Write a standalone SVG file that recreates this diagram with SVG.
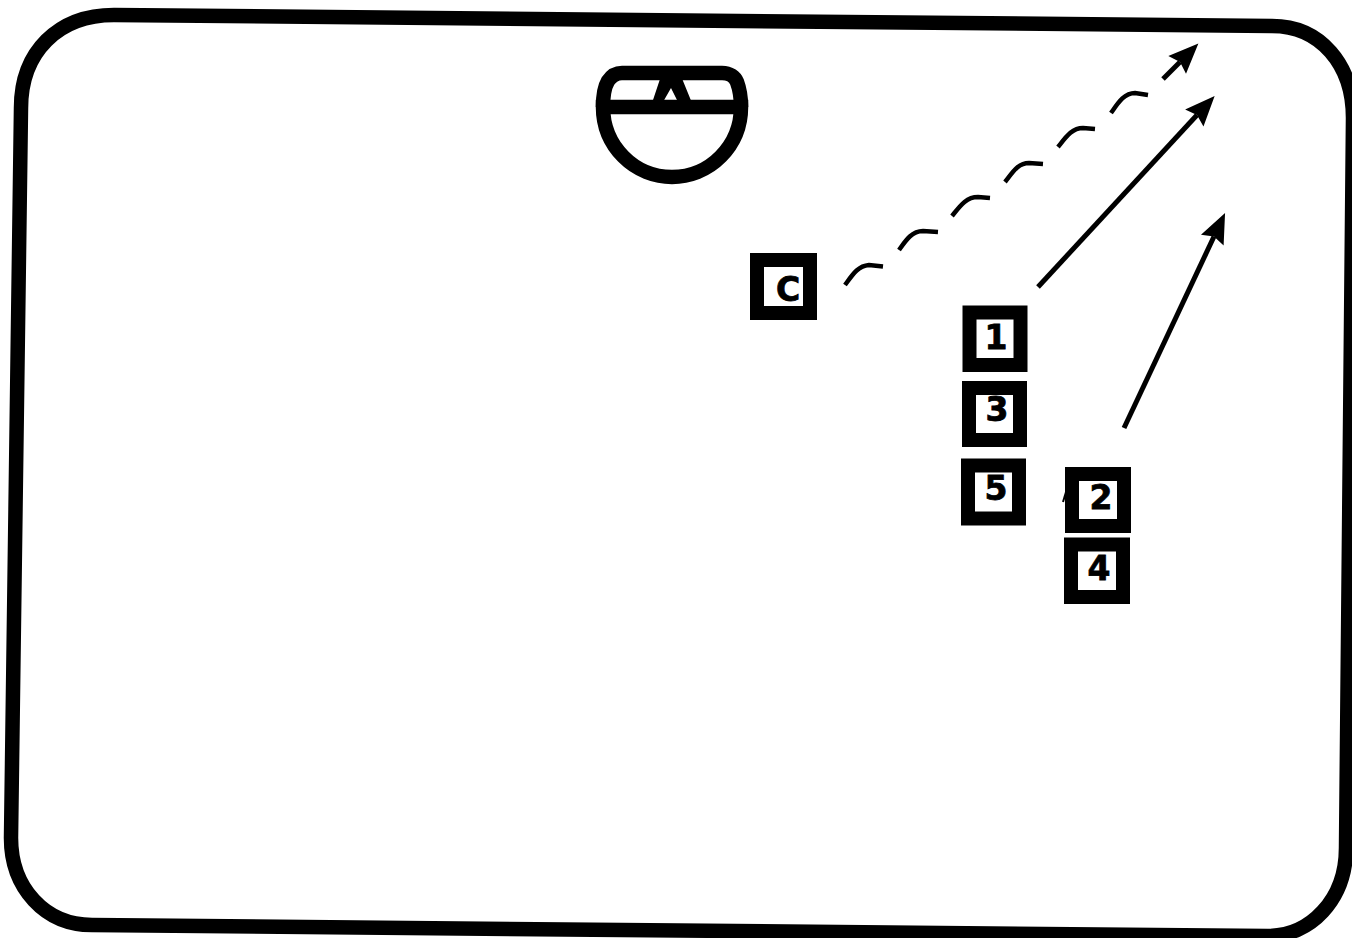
<svg xmlns="http://www.w3.org/2000/svg" width="1352" height="938" viewBox="0 0 1352 938">
  <style>
    .box { fill: #fff; stroke: #000; stroke-width: 14; }
    .lbl { font-family: "DejaVu Sans", "Liberation Sans", sans-serif; font-weight: 700; font-size: 33px; text-anchor: middle; fill: #000; stroke: #000; stroke-width: 0.8; }
    .solid { fill: none; stroke: #000; stroke-width: 5; marker-end: url(#head); }
    .dash { fill: none; stroke: #000; stroke-width: 4.500; }
    .sym { fill: none; stroke: #000; stroke-width: 14.500; }
  </style>
  <defs>
    <marker id="head" markerUnits="userSpaceOnUse" markerWidth="31" markerHeight="28" refX="4" refY="14" orient="auto" overflow="visible">
      <path d="M0 1.500 L30 14 L0 26.500 L4 14 Z" fill="#000"/>
    </marker>
  </defs>
  <rect width="1352" height="938" fill="#fff"/>
  <g id="frame">
    <path d="M21 108 C21 52 58 15 114 15 L1272 26 C1320 26 1353 64 1353 118 L1346 848 C1346 900 1310 936 1268 936 L92 925 C45 925 11 888 11 838 Z" fill="none" stroke="#000" stroke-width="14.500"/>
  </g>
  <g id="symbol">
    <path class="sym" d="M603 107 C603 95 605 86 608 81 C612 75 617 73 622 73 L722 73 C730 73 735 77 737 82 C740 90 741 98 741 107"/>
    <path class="sym" d="M603 107 L741 107 A69 70 0 0 1 603 107 Z"/>
    <path d="M661 76 L681 76 L692 103 L652 103 Z M671 88 L663 102 L678 102 Z" fill="#000" fill-rule="evenodd"/>
  </g>
  <g id="connectors">
    <path class="dash" d="M845 285 C853 274 858 266 869 265 L883 266.500"/>
    <path class="dash" d="M899 250 C906 240 912 231 923 231 L938 232"/>
    <path class="dash" d="M952 216 C960 206 966 197 978 197 L990 198"/>
    <path class="dash" d="M1005 182 C1013 172 1018 163 1029 163 L1043 164"/>
    <path class="dash" d="M1058 147 C1066 137 1072 128 1083 128 L1095 129"/>
    <path class="dash" d="M1111 113 C1118 103 1124 93 1135 93 L1148 95"/>
    <path class="solid" d="M1163 79 L1180 62"/>
    <path class="solid" d="M1038 287 L1197 115"/>
    <path class="solid" d="M1124 428 L1214 236.500"/>
    <path d="M1063 502 L1066 492" fill="none" stroke="#000" stroke-width="2"/>
  </g>
  <g id="node-c">
    <rect class="box" x="757" y="260" width="53" height="53"/>
    <text class="lbl" x="788" y="301">C</text>
  </g>
  <g id="node-1">
    <rect class="box" x="969.500" y="312.500" width="51" height="52.500"/>
    <text class="lbl" x="996" y="349">1</text>
  </g>
  <g id="node-3">
    <rect class="box" x="969" y="388" width="51" height="52"/>
    <text class="lbl" x="997" y="421">3</text>
  </g>
  <g id="node-5">
    <rect class="box" x="968" y="465.500" width="51" height="53"/>
    <text class="lbl" x="996" y="500">5</text>
  </g>
  <g id="node-2">
    <rect class="box" x="1072" y="474" width="52" height="52"/>
    <text class="lbl" x="1101" y="509">2</text>
  </g>
  <g id="node-4">
    <rect class="box" x="1071" y="544.500" width="52" height="52.500"/>
    <text class="lbl" x="1099" y="580">4</text>
  </g>
</svg>
